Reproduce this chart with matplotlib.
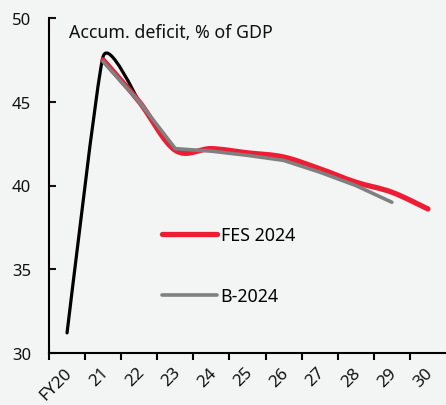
import matplotlib
matplotlib.use("Agg")
import matplotlib.pyplot as plt
from matplotlib.path import Path
from matplotlib.patches import PathPatch
from matplotlib.lines import Line2D
import matplotlib.transforms as mtransforms
import numpy as np

plt.rcParams['font.family'] = ['Noto Sans', 'DejaVu Sans']

categories = ["FY20", "21", "22", "23", "24", "25", "26", "27", "28", "29", "30"]
actual = [31.2, 47.7, 45.0]
fes2024 = [None, 47.5, 45.0, 42.1, 42.2, 41.95, 41.7, 41.0, 40.2, 39.6, 38.6]
b2024 = [None, 47.4, 45.0, 42.2, 42.05, 41.8, 41.5, 40.8, 40.0, 39.0, None]

BG = '#f3f4f4'
RED = '#ee1d34'
GRAY = '#808080'


def smooth_path(xs, ys, k):
    pts = list(zip(xs, ys))
    n = len(pts)
    verts = [pts[0]]
    codes = [Path.MOVETO]
    for i in range(n - 1):
        p0 = pts[i - 1] if i > 0 else pts[i]
        p1 = pts[i]
        p2 = pts[i + 1]
        p3 = pts[i + 2] if i + 2 < n else pts[i + 1]
        c1 = (p1[0] + (p2[0] - p0[0]) * k, p1[1] + (p2[1] - p0[1]) * k)
        c2 = (p2[0] - (p3[0] - p1[0]) * k, p2[1] - (p3[1] - p1[1]) * k)
        verts += [c1, c2, p2]
        codes += [Path.CURVE4] * 3
    return Path(verts, codes)


def series_xy(vals):
    xs = [i for i, v in enumerate(vals) if v is not None]
    ys = [v for v in vals if v is not None]
    return xs, ys


fig = plt.figure(figsize=(4.46, 4.06), dpi=100, facecolor=BG)
ax = fig.add_axes([49/446, 52/406, 397/446, 335/406])
ax.set_facecolor(BG)

xs, ys = series_xy(actual)
ax.add_patch(PathPatch(smooth_path(xs, ys, 0.08), fill=False, edgecolor='black',
                       lw=2.3, capstyle='round', joinstyle='round', zorder=2))
xs, ys = series_xy(fes2024)
ax.add_patch(PathPatch(smooth_path(xs, ys, 1/6), fill=False, edgecolor=RED,
                       lw=3.8, capstyle='round', joinstyle='round', zorder=3))
xs, ys = series_xy(b2024)
ax.plot(xs, ys, color=GRAY, lw=2.6, solid_capstyle='round', solid_joinstyle='round', zorder=4)

ax.set_xlim(-0.5, 10.5)
ax.set_ylim(30, 50)
ax.set_yticks([30, 35, 40, 45, 50])
ax.set_xticks(range(len(categories)))
ax.set_xticklabels(categories, rotation=45, ha='right', va='top', rotation_mode='anchor')
ax.set_xticks(np.arange(-0.5, 10.5, 1), minor=True)
ax.tick_params(axis='x', which='major', length=0, pad=7, labelsize=12.3, colors='#111111')
ax.tick_params(axis='x', which='minor', length=5, width=1.5, direction='out')
ax.tick_params(axis='y', which='major', length=5, width=1.5, direction='in', pad=13,
               labelsize=12, colors='#111111')
offset = mtransforms.ScaledTranslation(-3/100, -1.5/100, fig.dpi_scale_trans)
for lab in ax.get_xticklabels():
    lab.set_transform(lab.get_transform() + offset)
for s in ['top', 'right']:
    ax.spines[s].set_visible(False)
for s in ['left', 'bottom']:
    ax.spines[s].set_linewidth(1.5)
    ax.spines[s].set_color('black')

ax.text(0.05, 0.985, "Accum. deficit, % of GDP", transform=ax.transAxes,
        fontsize=12.8, color='#111111', va='top', ha='left')

handles = [Line2D([], [], color=RED, lw=3.8, solid_capstyle='round'),
           Line2D([], [], color=GRAY, lw=2.6, solid_capstyle='round')]
ax.legend(handles, ["FES 2024", "B-2024"], loc='upper left', bbox_to_anchor=(0.262, 0.405),
          frameon=False, fontsize=12.8, handlelength=3.1, handletextpad=0.2,
          labelspacing=2.4, borderpad=0)

fig.savefig("out.png", dpi=100, facecolor=BG)
